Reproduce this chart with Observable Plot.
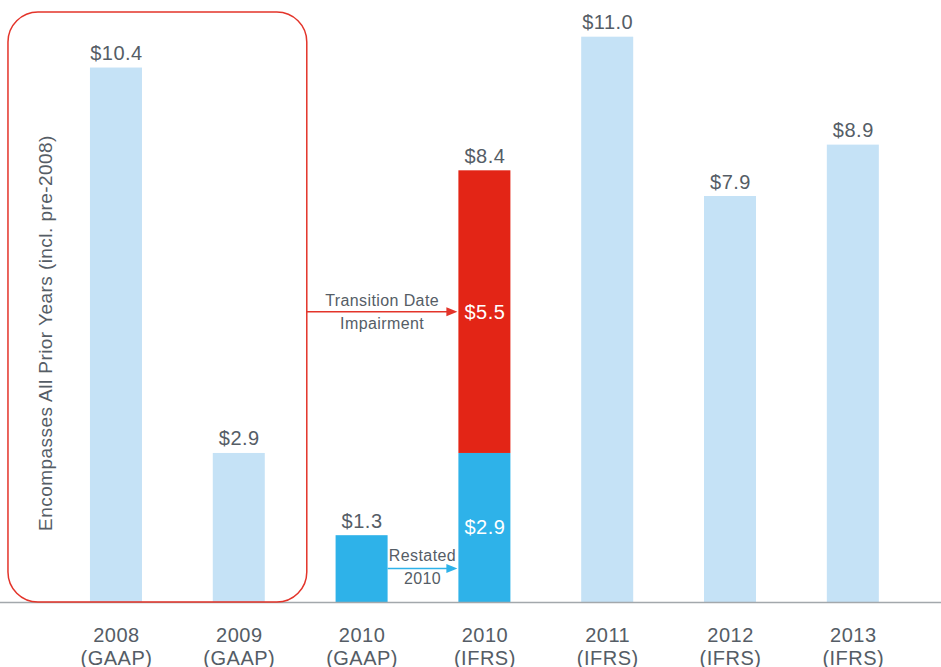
<!DOCTYPE html>
<html><head><meta charset="utf-8">
<script src="https://cdn.jsdelivr.net/npm/d3@7"></script>
<script src="https://cdn.jsdelivr.net/npm/@observablehq/plot@0.6"></script>
<style>body{margin:0;background:#fff;} svg{display:block;}</style>
</head><body><div id="chart"></div>
<script>
// ---- data ----
const categories = ["2008 (GAAP)", "2009 (GAAP)", "2010 (GAAP)", "2010 (IFRS)", "2011 (IFRS)", "2012 (IFRS)", "2013 (IFRS)"];
const years = ["2008", "2009", "2010", "2010", "2011", "2012", "2013"];
const standards = ["GAAP", "GAAP", "GAAP", "IFRS", "IFRS", "IFRS", "IFRS"];
const baseValues = [10.4, 2.9, 1.3, 2.9, 11.0, 7.9, 8.9];
const baseSeries = ["Reported", "Reported", "2010", "2010", "Reported", "Reported", "Reported"];
const impairmentValues = [0, 0, 0, 5.5, 0, 0, 0];
const seriesNames = ["Reported", "2010", "Transition Date Impairment"];
const seriesColors = ["#c5e2f6", "#2eb2e9", "#e32516"];
const boxNote = "Encompasses All Prior Years (incl. pre-2008)";
const impairmentNote = ["Transition Date", "Impairment"];
const restatedNote = ["Restated", "2010"];

const FONT = "'Liberation Sans', Arial, Helvetica, sans-serif";
const TXT = "#555d66";
const fmt = v => "$" + v.toFixed(1);

const segments = [];
categories.forEach((c, i) => {
  const stacked = impairmentValues[i] > 0;
  segments.push({category: c, series: baseSeries[i], value: baseValues[i], inside: stacked});
  if (stacked) segments.push({category: c, series: "Transition Date Impairment", value: impairmentValues[i], inside: true});
});
const totals = categories.map((c, i) => ({category: c, total: baseValues[i] + impairmentValues[i]}));

const chart = Plot.plot({
  width: 941, height: 667,
  marginLeft: 54.6, marginRight: 26.8, marginTop: 11, marginBottom: 65,
  style: {fontFamily: FONT, fontSize: "20px", color: TXT, background: "#fff", overflow: "visible", letterSpacing: "0.5px"},
  x: {domain: categories, axis: null, paddingInner: 0.5765, paddingOuter: 0.288, round: false},
  y: {domain: [0, 11.5], axis: null},
  color: {domain: seriesNames, range: seriesColors},
  marks: [
    Plot.barY(segments, {x: "category", y: "value", fill: "series"}),
    Plot.ruleY([0], {stroke: "#a3a8ac", strokeWidth: 1.5, insetLeft: -60, insetRight: -30}),
    Plot.text(segments.filter(d => d.inside), Plot.stackY({x: "category", y: "value", z: "series", text: d => fmt(d.value), fill: "white"})),
    Plot.text(totals, {x: "category", y: "total", text: d => fmt(d.total), lineAnchor: "bottom", dy: -8, fill: TXT}),
    Plot.text(categories, {x: d => d, text: (d, i) => years[i] + "\n(" + standards[i] + ")", frameAnchor: "bottom", lineAnchor: "top", dy: 23, lineHeight: 1.15, fill: TXT})
  ]
});
document.getElementById("chart").appendChild(chart);

// ---- annotations positioned from the Plot scales ----
const xs = chart.scale("x"), ys = chart.scale("y");
const bw = xs.bandwidth;
const X = c => xs.apply(c);
const Y = v => ys.apply(v);
const svg = d3.select(chart);
const g = svg.append("g").attr("font-family", FONT);

const boxL = X(categories[0]) - 82, boxR = X(categories[1]) + bw + 42;
const boxT = Y(11.5) + 1, boxB = Y(0);
g.append("rect").attr("x", boxL).attr("y", boxT).attr("width", boxR - boxL).attr("height", boxB - boxT)
  .attr("rx", 30).attr("ry", 30).attr("fill", "none").attr("stroke", "#e3342a").attr("stroke-width", 1.5);
g.append("text").attr("transform", `translate(${X(categories[0]) - 43},${(boxT + boxB) / 2 + 26}) rotate(-90)`)
  .attr("text-anchor", "middle").attr("dominant-baseline", "middle").attr("font-size", 19)
  .attr("letter-spacing", "0.45px").attr("fill", TXT).text(boxNote);

function arrow(x1, x2, y, color, lines, upOff, downOff) {
  g.append("line").attr("x1", x1).attr("x2", x2 - 9).attr("y1", y).attr("y2", y).attr("stroke", color).attr("stroke-width", 1.5);
  g.append("path").attr("d", `M${x2},${y}L${x2 - 11},${y - 4.5}L${x2 - 11},${y + 4.5}Z`).attr("fill", color);
  const cx = (x1 + x2) / 2;
  for (const [t, dy] of [[lines[0], -upOff], [lines[1], downOff]]) {
    g.append("text").attr("x", cx).attr("y", y + dy).attr("text-anchor", "middle").attr("font-size", 16)
      .attr("letter-spacing", "0.4px").attr("fill", TXT).text(t);
  }
}
const ifrsL = X(categories[3]);
arrow(boxR, ifrsL - 1, Y(baseValues[3] + impairmentValues[3] / 2), "#e3342a", impairmentNote, 6, 17);
arrow(X(categories[2]) + bw, ifrsL - 1, Y(baseValues[2] / 2), "#2eb2e9", restatedNote, 8, 15);
</script>
</body></html>
